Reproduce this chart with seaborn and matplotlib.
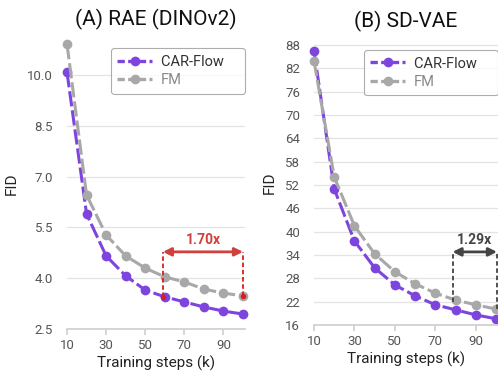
import numpy as np
import pandas as pd
import matplotlib.pyplot as plt
import seaborn as sns

# --- Data ---
steps = [10, 20, 30, 40, 50, 60, 70, 80, 90, 100]

rae_car = [10.09, 5.90, 4.66, 4.07, 3.65, 3.45, 3.30, 3.15, 3.03, 2.94]
rae_fm = [10.92, 6.46, 5.28, 4.66, 4.30, 4.04, 3.89, 3.68, 3.56, 3.48]

sd_car = [86.5, 51.0, 37.6, 30.7, 26.3, 23.5, 21.2, 19.9, 18.6, 17.6]
sd_fm = [83.9, 54.1, 41.5, 34.3, 29.7, 26.6, 24.2, 22.4, 21.2, 20.1]

rae_yticks = [2.5, 4.0, 5.5, 7.0, 8.5, 10.0]
sd_yticks = [16, 22, 28, 34, 40, 46, 52, 58, 64, 70, 76, 82, 88]
xticks = [10, 30, 50, 70, 90]

sns.set_theme(style="white")
plt.rcParams['font.family'] = ['Roboto', 'DejaVu Sans']

PURPLE = "#7d45dd"
GREY = "#a8a8a8"
palette = {"CAR-Flow": PURPLE, "FM": GREY}


def make_df(car, fm):
    return pd.DataFrame({
        "step": steps * 2,
        "fid": car + fm,
        "method": ["CAR-Flow"] * len(steps) + ["FM"] * len(steps),
    })


fig = plt.figure(figsize=(4.98, 3.72), dpi=100)
ax1 = fig.add_axes([67 / 498, 1 - 329 / 372, 178 / 498, 291 / 372])
ax2 = fig.add_axes([314 / 498, 1 - 325 / 372, 184 / 498, 285 / 372])


def style_panel(ax, df, title, yticks, ylim, yfmt):
    sns.lineplot(data=df, x="step", y="fid", hue="method", palette=palette,
                 marker="o", markersize=7, markeredgewidth=0, linewidth=2.2,
                 ax=ax, legend=False, clip_on=False)
    for line in ax.lines:
        line.set_dashes((5, 1.3))
    ax.set_xlim(10, 101)
    ax.set_ylim(*ylim)
    ax.set_xticks(xticks)
    ax.set_yticks(yticks)
    ax.set_yticklabels([yfmt.format(v) for v in yticks])
    ax.grid(axis="y", color="#e3e3e3", linewidth=0.9)
    ax.set_axisbelow(True)
    for s in ["left", "right", "top"]:
        ax.spines[s].set_visible(False)
    ax.spines["bottom"].set_color("#d0d0d0")
    ax.spines["bottom"].set_bounds(10, 101)
    ax.tick_params(axis="x", length=4, color="#d0d0d0", labelsize=9.5,
                   labelcolor="#555555", pad=3, bottom=True)
    ax.tick_params(axis="y", length=0, labelsize=9.5, labelcolor="#555555", pad=10)
    ax.set_xlabel("Training steps (k)", fontsize=11, color="#222222", labelpad=3)
    ax.set_ylabel("FID", fontsize=11, color="#222222", labelpad=6)
    ax.set_title(title, fontsize=15, color="#111111", pad=9)
    h1, = ax.plot([], [], color=PURPLE, marker="o", markersize=7, lw=2.4,
                  dashes=(2.2, 1.0), markeredgewidth=0)
    h2, = ax.plot([], [], color=GREY, marker="o", markersize=7, lw=2.4,
                  dashes=(2.2, 1.0), markeredgewidth=0)
    leg = ax.legend([h1, h2], ["CAR-Flow    ", "FM"], loc="upper right",
                    bbox_to_anchor=(1.0, 0.965), fontsize=10.5, frameon=True,
                    fancybox=True, edgecolor="#999999", handlelength=2.4,
                    borderpad=0.45, labelspacing=0.3, handletextpad=0.6,
                    borderaxespad=0)
    leg.get_frame().set_linewidth(0.8)
    leg.get_texts()[0].set_color("#333333")
    leg.get_texts()[1].set_color("#888888")


style_panel(ax1, make_df(rae_car, rae_fm), "(A) RAE (DINOv2)", rae_yticks,
            (2.5, 11.1), "{:.1f}")
style_panel(ax2, make_df(sd_car, sd_fm), "(B) SD-VAE", sd_yticks,
            (16, 89.3), "{:d}")

# annotation A
RED = "#d0403c"
a_top = 4.78
ax1.plot([59, 59], [rae_car[5], a_top], ls=(0, (2.5, 1.5)), color="#d62020", lw=1.3, clip_on=False)
ax1.plot([100, 100], [rae_fm[9], a_top], ls=(0, (2.5, 1.5)), color="#d62020", lw=1.3, clip_on=False)
ax1.plot([59, 100], [rae_car[5], rae_fm[9]], "o", color="#d62020", ms=3, ls="none", clip_on=False)
ax1.annotate("", xy=(59, a_top), xytext=(100, a_top),
             arrowprops=dict(arrowstyle="<|-|>", color=RED, lw=2, mutation_scale=12,
                             shrinkA=0, shrinkB=0))
ax1.text(79.5, 5.12, "1.70x", color=RED, fontsize=10, fontweight="bold",
         ha="center", va="center")

# annotation B
DARK = "#444444"
b_top = 34.8
ax2.plot([78.5, 78.5], [21.9, b_top], ls=(0, (2.5, 1.5)), color=DARK, lw=1.3, clip_on=False)
ax2.plot([100.5, 100.5], [sd_fm[9], b_top], ls=(0, (2.5, 1.5)), color=DARK, lw=1.3, clip_on=False)
ax2.annotate("", xy=(78.5, b_top), xytext=(100.5, b_top),
             arrowprops=dict(arrowstyle="<|-|>", color=DARK, lw=2, mutation_scale=12,
                             shrinkA=0, shrinkB=0), annotation_clip=False)
ax2.text(89.5, 37.9, "1.29x", color=DARK, fontsize=10, fontweight="bold",
         ha="center", va="center")

fig.savefig("out.png", dpi=100)
